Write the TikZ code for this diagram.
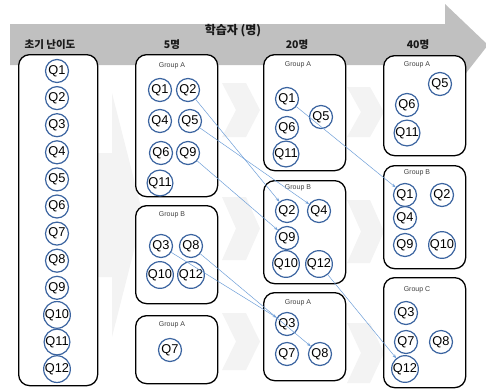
\documentclass[tikz,border=0pt]{standalone}
\usepackage{fontspec}
\setmainfont{Liberation Sans}
\newfontfamily\kr{Noto Sans CJK KR}
\usetikzlibrary{arrows.meta}
\definecolor{bgarrow}{HTML}{C0C0C0}
\definecolor{faint}{HTML}{F3F3F3}
\definecolor{qblue}{HTML}{3B64A0}
\definecolor{connc}{HTML}{6F9FD8}
\begin{document}
\begin{tikzpicture}[x=1pt,y=-1pt,
  q/.style={circle,draw=qblue,line width=1.2pt,minimum size=23pt,inner sep=0pt,font=\fontsize{12.8}{13}\selectfont},
  grp/.style={draw=black,line width=1.3pt,rounded corners=11pt,fill=white,anchor=north west,inner sep=0pt},
  glabel/.style={font=\fontsize{7}{8}\selectfont,text=black!75},
  hdr/.style={font=\kr\bfseries\fontsize{10.5}{12}\selectfont,text=black!90},
  link/.style={draw=connc,line width=0.5pt,-{Stealth[length=4pt,width=3pt]}},
  faintshape/.style={fill=faint,draw=none},
]
\useasboundingbox (0,0) rectangle (486,389);
\clip (0,0) rectangle (486,389);
% big header arrow
\fill[bgarrow] (10,24) -- (445,24) -- (445,4) -- (488,45) -- (445,100) -- (445,65) -- (10,65) -- cycle;
% faint background arrows
\fill[faintshape] (60,153) -- (112,153) -- (112,93) -- (143,215) -- (112,337) -- (112,277) -- (60,277) -- cycle;
\foreach \t/\b in {83/137,197/260,313/370}
  \fill[faintshape] (222,\t) -- (246,\t) -- (260,{(\t+\b)/2}) -- (246,\b) -- (222,\b) -- (236,{(\t+\b)/2}) -- cycle;
\foreach \t/\b in {87/137,200/263,323/383}
  \fill[faintshape] (347,\t) -- (370,\t) -- (384,{(\t+\b)/2}) -- (370,\b) -- (347,\b) -- (361,{(\t+\b)/2}) -- cycle;
% headers
\node[hdr,font=\kr\bfseries\fontsize{12}{14}\selectfont] (title) at (233,31) {학습자 (명)};
\node[hdr] (h1) at (50,45) {초기 난이도};
\node[hdr] (h2) at (172,45) {5명};
\node[hdr] (h3) at (297,45) {20명};
\node[hdr] (h4) at (418,45) {40명};
% boxes
\node[grp,minimum width=79pt,minimum height=331pt] (box1) at (18,54) {};
\node[grp,minimum width=82pt,minimum height=142pt] (box2a) at (135,54) {};
\node[grp,minimum width=82pt,minimum height=98pt] (box2b) at (135,205) {};
\node[grp,minimum width=82pt,minimum height=68pt] (box2c) at (135,315) {};
\node[grp,minimum width=82pt,minimum height=116pt] (box3a) at (263,54) {};
\node[grp,minimum width=82pt,minimum height=103pt] (box3b) at (263,180) {};
\node[grp,minimum width=82pt,minimum height=88pt] (box3c) at (263,292) {};
\node[grp,minimum width=82pt,minimum height=100pt] (box4a) at (383,55) {};
\node[grp,minimum width=82pt,minimum height=103pt] (box4b) at (383,165) {};
\node[grp,minimum width=82pt,minimum height=110pt] (box4c) at (383,277) {};
% group labels
\node[glabel] (l2a) at (172,66) {Group A};
\node[glabel] (l2b) at (172,215) {Group B};
\node[glabel] (l2c) at (172,325) {Group A};
\node[glabel] (l3a) at (298,65) {Group A};
\node[glabel] (l3b) at (298,188) {Group B};
\node[glabel] (l3c) at (298,303) {Group A};
\node[glabel] (l4a) at (417,65) {Group A};
\node[glabel] (l4b) at (417,173) {Group B};
\node[glabel] (l4c) at (417,290) {Group C};
% column 1
\foreach \i in {1,...,12}
  \node[q] (a\i) at (57,{71+27.1*(\i-1)}) {Q\i};
% column 2
\node[q] (b1) at (160,90) {Q1};
\node[q] (b2) at (188,90) {Q2};
\node[q] (b4) at (160,121) {Q4};
\node[q] (b5) at (190,121) {Q5};
\node[q] (b6) at (161,153) {Q6};
\node[q] (b9) at (188,153) {Q9};
\node[q] (b11) at (160,183) {Q11};
\node[q] (b3) at (161,246) {Q3};
\node[q] (b8) at (191,246) {Q8};
\node[q] (b10) at (160,275) {Q10};
\node[q] (b12) at (191,275) {Q12};
\node[q] (b7) at (170,350) {Q7};
% column 3
\node[q] (c1) at (287,99) {Q1};
\node[q] (c5) at (321,117) {Q5};
\node[q] (c6) at (287,128) {Q6};
\node[q] (c11) at (286,154) {Q11};
\node[q] (c2) at (287,211) {Q2};
\node[q] (c4) at (319,211) {Q4};
\node[q] (c9) at (287,238) {Q9};
\node[q] (c10) at (286,264) {Q10};
\node[q] (c12) at (319,264) {Q12};
\node[q] (c3) at (287,324) {Q3};
\node[q] (c7) at (287,354) {Q7};
\node[q] (c8) at (320,354) {Q8};
% column 4
\node[q] (d5) at (440,84) {Q5};
\node[q] (d6) at (407,105) {Q6};
\node[q] (d11) at (407,133) {Q11};
\node[q] (d1) at (405,195) {Q1};
\node[q] (d2) at (442,195) {Q2};
\node[q] (d4) at (405,218) {Q4};
\node[q] (d9) at (405,245) {Q9};
\node[q] (d10) at (442,245) {Q10};
\node[q] (d3) at (406,313) {Q3};
\node[q] (d7) at (406,342) {Q7};
\node[q] (d8) at (441,342) {Q8};
\node[q] (d12) at (405,369) {Q12};
% connectors
\draw[link] (b2) -- (c2);
\draw[link] (b5) -- (c4);
\draw[link] (b9) -- (c9);
\draw[link] (b3) -- (c3);
\draw[link] (b8) -- (c8);
\draw[link] (c1) -- (d1);
\draw[link] (c12) -- (d12);
\end{tikzpicture}
\end{document}
